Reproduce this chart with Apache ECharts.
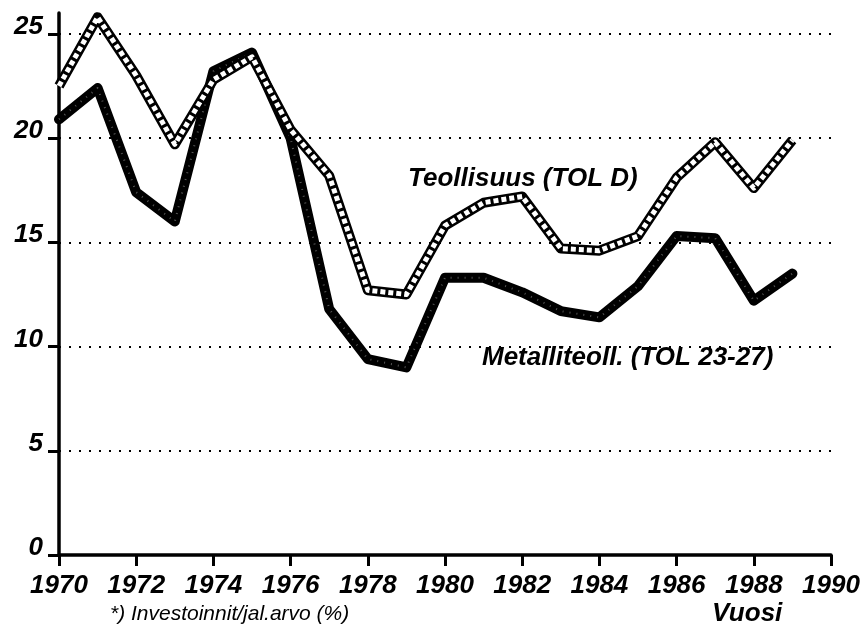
<!DOCTYPE html>
<html>
<head>
<meta charset="utf-8">
<script src="https://cdn.jsdelivr.net/npm/echarts@6/dist/echarts.min.js"></script>
<style>html,body{margin:0;padding:0;background:#fff}#c{width:868px;height:636px}</style>
</head>
<body>
<div id="c"></div>
<script>
const years = [1970,1971,1972,1973,1974,1975,1976,1977,1978,1979,1980,1981,1982,1983,1984,1985,1986,1987,1988,1989];
const teollisuus = [22.5,25.8,23.0,19.7,22.8,23.9,20.4,18.2,12.7,12.5,15.8,16.9,17.2,14.7,14.6,15.3,18.1,19.8,17.6,19.9];
const metalli = [20.9,22.4,17.4,16.0,23.2,24.1,20.0,11.8,9.4,9.0,13.3,13.3,12.6,11.7,11.4,12.9,15.3,15.2,12.2,13.5];
const yTicks = [0,5,10,15,20,25];
const gridValues = [5,10,15,20,25];

const FONT = "'Liberation Sans', Arial, Helvetica, sans-serif";
const pair = (ys) => years.map((y, i) => [y, ys[i]]);

const chart = echarts.init(document.getElementById('c'), null, {renderer: 'canvas'});
chart.setOption({
  animation: false,
  backgroundColor: '#ffffff',
  grid: {left: 59, right: 37, top: 13, bottom: 81},
  xAxis: {
    type: 'value', min: 1970, max: 1990, interval: 2,
    axisLine: {show: true, onZero: false, lineStyle: {color: '#000', width: 3.5}},
    axisTick: {show: true, inside: false, length: 11, lineStyle: {color: '#000', width: 3}},
    axisLabel: {show: true, margin: 18, color: '#000', fontFamily: FONT, fontSize: 26,
      fontStyle: 'italic', fontWeight: 'bold', formatter: v => String(v)},
    splitLine: {show: false}
  },
  yAxis: {
    type: 'value', min: 0, max: 26,
    axisLine: {show: true, onZero: false, lineStyle: {color: '#000', width: 3.5}},
    axisTick: {show: true, inside: false, length: 11, customValues: yTicks, lineStyle: {color: '#000', width: 3}},
    axisLabel: {show: true, margin: 16, color: '#000', fontFamily: FONT, fontSize: 26,
      fontStyle: 'italic', fontWeight: 'bold', customValues: yTicks,
      verticalAlign: 'bottom', lineHeight: 14, formatter: v => String(v)},
    splitLine: {show: false}
  },
  series: [
    {
      type: 'line', data: pair(metalli), symbol: 'none', silent: true,
      lineStyle: {color: '#000', width: 10, join: 'round', cap: 'round'}, z: 3,
      markLine: {
        silent: true, symbol: 'none', label: {show: false},
        lineStyle: {color: '#000', type: [2, 8], width: 2},
        data: gridValues.map(v => ({yAxis: v}))
      }
    },
    {
      type: 'line', data: pair(metalli), symbol: 'none', silent: true,
      lineStyle: {color: '#555', width: 2, type: [1, 6], join: 'round'}, z: 4
    },
    {
      type: 'line', data: pair(teollisuus), symbol: 'none', silent: true,
      lineStyle: {color: '#000', width: 10, join: 'round'}, z: 5
    },
    {
      type: 'line', data: pair(teollisuus), symbol: 'none', silent: true,
      lineStyle: {color: '#fff', width: 5, type: [5, 3], join: 'round'}, z: 6
    }
  ],
  graphic: [
    {type: 'text', left: 408, top: 166, z: 10, style: {text: 'Teollisuus (TOL D)', fill: '#000',
      font: 'italic bold 26px ' + FONT}},
    {type: 'text', left: 482, top: 345, z: 10, style: {text: 'Metalliteoll. (TOL 23-27)', fill: '#000',
      font: 'italic bold 26px ' + FONT}},
    {type: 'text', left: 110, top: 604, z: 10, style: {text: '*) Investoinnit/jal.arvo (%)', fill: '#000',
      font: 'italic 21px ' + FONT}},
    {type: 'text', left: 712, top: 601, z: 10, style: {text: 'Vuosi', fill: '#000',
      font: 'italic bold 26px ' + FONT}}
  ]
});
</script>
</body>
</html>
